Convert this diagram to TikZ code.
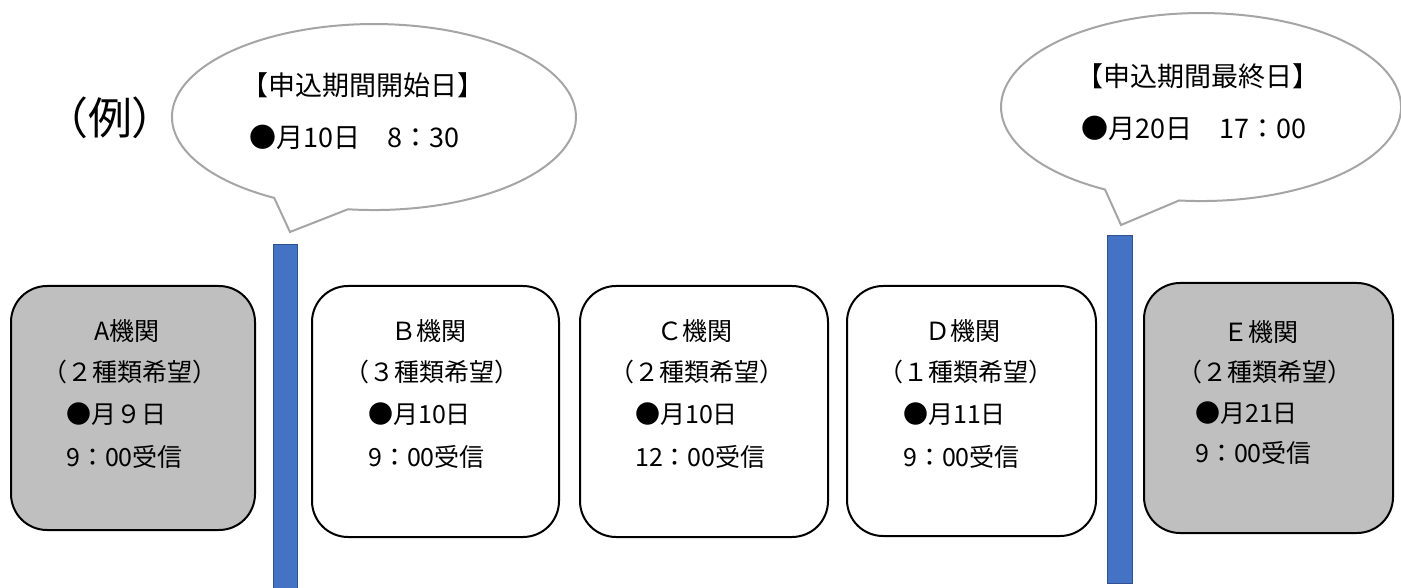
\documentclass[tikz,border=0pt]{standalone}
\usepackage{fontspec}
\setmainfont{Noto Sans CJK JP}
\usepackage{tikz}
\definecolor{barblue}{HTML}{4472C4}
\definecolor{bardark}{HTML}{2F528F}
\definecolor{boxgray}{HTML}{BFBFBF}
\definecolor{fukigray}{HTML}{A5A5A5}

\begin{document}
\begin{tikzpicture}[x=1pt,y=-1pt,
  kikan/.style={draw=black,line width=2pt,rounded corners=36pt,inner sep=0pt},
  txt/.style={inner sep=0pt,font=\fontsize{25}{30}\selectfont},
  fukitxt/.style={inner sep=0pt,font=\fontsize{27}{32}\selectfont},
  fukidashi/.style={draw=fukigray,line width=2pt,fill=white},
  bar/.style={fill=barblue,draw=bardark,line width=1pt}]
\useasboundingbox (0,0) rectangle (1401,588);
\node[inner sep=0pt,font=\fontsize{44}{50}\selectfont] (rei) at (110,118) {（例）};
% fukidashi
\draw[fukidashi] (274.2,197.9) arc[start angle=119.6, end angle=457.4, x radius=202, y radius=93] -- (290,232) -- cycle;
\draw[fukidashi] (1105,189.5) arc[start angle=118.7, end angle=456.3, x radius=200, y radius=94] -- (1121,225) -- cycle;
\node[fukitxt] (kaishi) at (363,85) {【申込期間開始日】};
\node[fukitxt,anchor=west] (kaishiday) at (249,137) {●月10日　8：30};
\node[fukitxt] (saishu) at (1198,76) {【申込期間最終日】};
\node[fukitxt,anchor=west] (saishuday) at (1081,128) {●月20日　17：00};
% bars
\draw[bar] (273,245) rectangle (297,590);
\draw[bar] (1107,236) rectangle (1132,583);
% kikan
\node[kikan,fill=boxgray,minimum width=244pt,minimum height=244pt] (boxA) at (133,408) {};
\node[kikan,minimum width=247pt,minimum height=251pt] (boxB) at (435.5,411.5) {};
\node[kikan,minimum width=248pt,minimum height=251pt] (boxC) at (704,411.5) {};
\node[kikan,minimum width=249pt,minimum height=250pt] (boxD) at (971.5,411) {};
\node[kikan,fill=boxgray,minimum width=249pt,minimum height=250pt] (boxE) at (1268.5,408) {};
\node[txt] (nameA) at (127,331) {A機関};
\node[txt] (kindA) at (129.5,372) {（２種類希望）};
\node[txt,anchor=west] (dayA) at (66,414) {●月９日};
\node[txt,anchor=west] (timeA) at (66,457) {9：00受信};
\node[txt] (nameB) at (429,331) {Ｂ機関};
\node[txt] (kindB) at (432,372) {（３種類希望）};
\node[txt,anchor=west] (dayB) at (368,414) {●月10日};
\node[txt,anchor=west] (timeB) at (368,457) {9：00受信};
\node[txt] (nameC) at (695,331) {Ｃ機関};
\node[txt] (kindC) at (697,372) {（２種類希望）};
\node[txt,anchor=west] (dayC) at (635,414) {●月10日};
\node[txt,anchor=west] (timeC) at (635,457) {12：00受信};
\node[txt] (nameD) at (963,331) {Ｄ機関};
\node[txt] (kindD) at (966,372) {（１種類希望）};
\node[txt,anchor=west] (dayD) at (903,414) {●月11日};
\node[txt,anchor=west] (timeD) at (903,457) {9：00受信};
\node[txt] (nameE) at (1261,332) {Ｅ機関};
\node[txt] (kindE) at (1265,372) {（２種類希望）};
\node[txt,anchor=west] (dayE) at (1195,413) {●月21日};
\node[txt,anchor=west] (timeE) at (1195,453) {9：00受信};
\end{tikzpicture}
\end{document}
